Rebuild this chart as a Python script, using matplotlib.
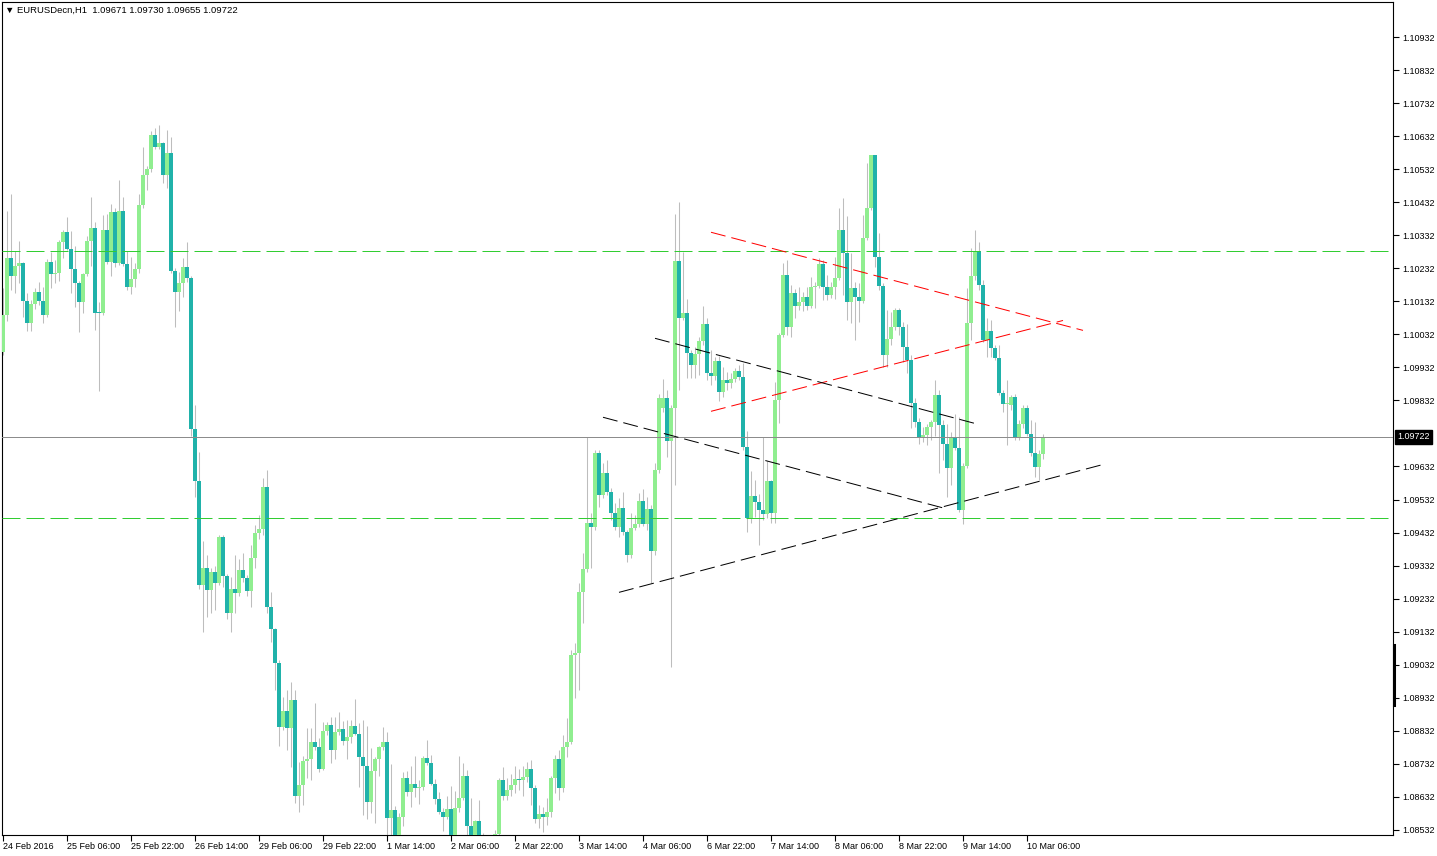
import matplotlib
matplotlib.use("Agg")
import matplotlib.pyplot as plt
from matplotlib.lines import Line2D

# ---------------- data (EURUSD H1, 261 bars) ----------------
opens = [
 1.09979,1.10091,1.10263,1.10209,1.10239,1.10248,1.10133,1.10067,1.10124,1.10161,
 1.10133,1.10091,1.10251,1.10215,1.10218,1.10312,1.10342,1.10291,1.10230,1.10188,
 1.10130,1.10215,1.10315,1.10354,1.10100,1.10097,1.10348,1.10251,1.10403,1.10248,
 1.10406,1.10245,1.10176,1.10200,1.10230,1.10424,1.10515,1.10533,1.10636,1.10599,
 1.10612,1.10515,1.10581,1.10224,1.10161,1.10188,1.10236,1.10203,1.09746,1.09588,
 1.09274,1.09325,1.09259,1.09313,1.09280,1.09419,1.09301,1.09189,1.09262,1.09249,
 1.09319,1.09295,1.09255,1.09355,1.09431,1.09443,1.09570,1.09207,1.09140,1.09038,
 1.08844,1.08892,1.08841,1.08926,1.08635,1.08668,1.08741,1.08747,1.08798,1.08783,
 1.08717,1.08832,1.08850,1.08774,1.08829,1.08838,1.08801,1.08814,1.08847,1.08823,
 1.08753,1.08726,1.08617,1.08711,1.08747,1.08783,1.08798,1.08568,1.08593,1.08514,
 1.08571,1.08689,1.08647,1.08671,1.08659,1.08662,1.08750,1.08735,1.08671,1.08626,
 1.08586,1.08571,1.08596,1.08511,1.08599,1.08629,1.08695,1.08544,1.08514,1.08559,
 1.08496,1.08471,1.08478,1.08487,1.08520,1.08683,1.08635,1.08653,1.08668,1.08686,
 1.08683,1.08692,1.08717,1.08659,1.08565,1.08580,1.08571,1.08586,1.08689,1.08747,
 1.08659,1.08783,1.08798,1.09062,1.09068,1.09252,1.09322,1.09461,1.09449,1.09673,
 1.09546,1.09613,1.09555,1.09492,1.09449,1.09507,1.09434,1.09364,1.09446,1.09458,
 1.09528,1.09458,1.09504,1.09377,1.09622,1.09809,1.09840,1.09710,1.09809,1.10254,
 1.10082,1.10097,1.09976,1.09940,1.09973,1.10012,1.10064,1.09915,1.09906,1.09952,
 1.09858,1.09894,1.09885,1.09897,1.09921,1.09903,1.09691,1.09476,1.09543,1.09525,
 1.09501,1.09489,1.09588,1.09492,1.09834,1.10030,1.10212,1.10055,1.10158,1.10118,
 1.10130,1.10145,1.10118,1.10176,1.10179,1.10245,1.10176,1.10151,1.10176,1.10203,
 1.10348,1.10279,1.10130,1.10173,1.10145,1.10133,1.10324,1.10415,1.10575,1.10267,
 1.10179,1.09970,1.10018,1.10055,1.10106,1.10055,1.09994,1.09955,1.09825,1.09767,
 1.09719,1.09728,1.09752,1.09767,1.09849,1.09758,1.09700,1.09628,1.09722,1.09688,
 1.09501,1.09634,1.10067,1.10209,1.10285,1.10182,1.10015,1.10042,1.09991,1.09961,
 1.09855,1.09822,1.09818,1.09843,1.09722,1.09761,1.09809,1.09731,1.09673,1.09631,
 1.09671]

highs = [
 1.10173,1.10406,1.10457,1.10285,1.10315,1.10251,1.10158,1.10136,1.10173,1.10191,
 1.10176,1.10260,1.10282,1.10257,1.10318,1.10348,1.10388,1.10345,1.10300,1.10194,
 1.10218,1.10330,1.10448,1.10372,1.10130,1.10394,1.10397,1.10427,1.10415,1.10500,
 1.10448,1.10285,1.10267,1.10248,1.10457,1.10599,1.10542,1.10648,1.10657,1.10666,
 1.10615,1.10651,1.10630,1.10233,1.10221,1.10263,1.10312,1.10209,1.09818,1.09676,
 1.09407,1.09364,1.09325,1.09331,1.09425,1.09425,1.09307,1.09298,1.09364,1.09352,
 1.09371,1.09304,1.09395,1.09455,1.09486,1.09598,1.09622,1.09252,1.09143,1.09047,
 1.08935,1.08956,1.08980,1.08956,1.08738,1.08756,1.08841,1.08841,1.08916,1.08810,
 1.08859,1.08859,1.08874,1.08874,1.08889,1.08862,1.08865,1.08865,1.08929,1.08856,
 1.08865,1.08847,1.08780,1.08753,1.08786,1.08844,1.08829,1.08732,1.08605,1.08583,
 1.08708,1.08711,1.08726,1.08756,1.08683,1.08756,1.08804,1.08759,1.08686,1.08647,
 1.08599,1.08635,1.08665,1.08650,1.08756,1.08735,1.08714,1.08629,1.08562,1.08623,
 1.08523,1.08502,1.08508,1.08532,1.08689,1.08723,1.08689,1.08702,1.08726,1.08717,
 1.08726,1.08738,1.08744,1.08668,1.08608,1.08602,1.08629,1.08695,1.08759,1.08774,
 1.08820,1.08871,1.09077,1.09098,1.09280,1.09371,1.09722,1.09492,1.09682,1.09682,
 1.09643,1.09652,1.09567,1.09522,1.09537,1.09555,1.09440,1.09492,1.09486,1.09552,
 1.09564,1.09540,1.09516,1.09643,1.09852,1.09897,1.09864,1.09818,1.10397,1.10433,
 1.10282,1.10139,1.09985,1.09994,1.10024,1.10118,1.10082,1.09985,1.09964,1.09967,
 1.09934,1.09918,1.09915,1.09930,1.09940,1.09946,1.09740,1.09619,1.09592,1.09549,
 1.09722,1.09649,1.09592,1.09888,1.10036,1.10248,1.10257,1.10182,1.10170,1.10176,
 1.10161,1.10176,1.10206,1.10191,1.10263,1.10257,1.10212,1.10191,1.10267,1.10415,
 1.10445,1.10391,1.10279,1.10191,1.10188,1.10394,1.10551,1.10575,1.10575,1.10339,
 1.10188,1.10106,1.10100,1.10112,1.10112,1.10070,1.10064,1.09970,1.09840,1.09779,
 1.09752,1.09761,1.09773,1.09894,1.09864,1.09773,1.09761,1.09737,1.09791,1.09782,
 1.09643,1.10173,1.10294,1.10348,1.10312,1.10197,1.10082,1.10076,1.10000,1.10000,
 1.09864,1.09894,1.09849,1.09852,1.09773,1.09818,1.09818,1.09773,1.09767,1.09682,
 1.09730]

lows = [
 1.09970,1.10073,1.10167,1.10158,1.10188,1.10085,1.10042,1.10042,1.10109,1.10121,
 1.10067,1.10085,1.10173,1.10188,1.10194,1.10263,1.10288,1.10158,1.10115,1.10039,
 1.10097,1.10209,1.10239,1.10046,1.09861,1.10091,1.10245,1.10209,1.10236,1.10242,
 1.10239,1.10167,1.10154,1.10176,1.10218,1.10415,1.10469,1.10524,1.10593,1.10593,
 1.10490,1.10475,1.10218,1.10055,1.10103,1.10145,1.10191,1.09725,1.09540,1.09262,
 1.09131,1.09177,1.09189,1.09198,1.09274,1.09268,1.09171,1.09131,1.09189,1.09240,
 1.09283,1.09240,1.09207,1.09325,1.09413,1.09425,1.09189,1.09101,1.08956,1.08786,
 1.08835,1.08774,1.08723,1.08614,1.08586,1.08608,1.08689,1.08683,1.08774,1.08708,
 1.08714,1.08820,1.08735,1.08747,1.08820,1.08789,1.08747,1.08795,1.08820,1.08662,
 1.08577,1.08565,1.08583,1.08553,1.08695,1.08774,1.08487,1.08502,1.08487,1.08502,
 1.08544,1.08635,1.08602,1.08632,1.08611,1.08653,1.08729,1.08668,1.08611,1.08580,
 1.08529,1.08565,1.08502,1.08496,1.08586,1.08623,1.08517,1.08502,1.08496,1.08478,
 1.08447,1.08441,1.08456,1.08471,1.08487,1.08623,1.08623,1.08635,1.08644,1.08653,
 1.08635,1.08677,1.08608,1.08553,1.08538,1.08526,1.08547,1.08571,1.08644,1.08623,
 1.08647,1.08753,1.08792,1.08932,1.08956,1.09159,1.09313,1.09325,1.09440,1.09510,
 1.09537,1.09546,1.09470,1.09440,1.09419,1.09425,1.09343,1.09355,1.09440,1.09449,
 1.09452,1.09440,1.09280,1.09364,1.09613,1.09797,1.09661,1.09025,1.09576,1.09864,
 1.10076,1.09900,1.09900,1.09900,1.09909,1.10000,1.09894,1.09879,1.09894,1.09831,
 1.09843,1.09864,1.09870,1.09888,1.09894,1.09682,1.09434,1.09461,1.09479,1.09395,
 1.09470,1.09476,1.09461,1.09461,1.09764,1.10024,1.10030,1.10024,1.10082,1.10106,
 1.10103,1.10106,1.10112,1.10112,1.10173,1.10136,1.10136,1.10142,1.10139,1.10197,
 1.10151,1.10076,1.10067,1.10015,1.10070,1.10127,1.10318,1.10409,1.10236,1.10167,
 1.09932,1.09932,1.10000,1.10046,1.10030,1.09949,1.09915,1.09749,1.09752,1.09700,
 1.09707,1.09697,1.09713,1.09725,1.09613,1.09652,1.09540,1.09576,1.09682,1.09495,
 1.09458,1.09628,1.10015,1.10197,1.10167,1.10009,1.09964,1.09964,1.09955,1.09849,
 1.09797,1.09697,1.09803,1.09713,1.09713,1.09749,1.09725,1.09664,1.09600,1.09592,
 1.09655]

closes = [
 1.10091,1.10263,1.10209,1.10239,1.10248,1.10133,1.10067,1.10124,1.10161,1.10133,
 1.10091,1.10251,1.10215,1.10218,1.10312,1.10342,1.10291,1.10230,1.10188,1.10130,
 1.10215,1.10315,1.10354,1.10097,1.10097,1.10348,1.10251,1.10403,1.10248,1.10406,
 1.10245,1.10176,1.10200,1.10230,1.10424,1.10515,1.10533,1.10636,1.10599,1.10612,
 1.10515,1.10581,1.10224,1.10161,1.10188,1.10236,1.10203,1.09746,1.09588,1.09274,
 1.09325,1.09259,1.09313,1.09280,1.09419,1.09301,1.09189,1.09262,1.09249,1.09319,
 1.09295,1.09255,1.09355,1.09431,1.09443,1.09570,1.09207,1.09140,1.09038,1.08844,
 1.08892,1.08841,1.08926,1.08635,1.08668,1.08741,1.08747,1.08798,1.08783,1.08717,
 1.08832,1.08850,1.08774,1.08829,1.08838,1.08801,1.08814,1.08847,1.08823,1.08753,
 1.08726,1.08617,1.08711,1.08747,1.08783,1.08798,1.08568,1.08593,1.08514,1.08571,
 1.08689,1.08647,1.08671,1.08659,1.08662,1.08750,1.08735,1.08671,1.08626,1.08586,
 1.08571,1.08596,1.08511,1.08599,1.08629,1.08695,1.08544,1.08514,1.08559,1.08496,
 1.08471,1.08478,1.08487,1.08520,1.08683,1.08635,1.08653,1.08668,1.08686,1.08683,
 1.08692,1.08717,1.08659,1.08565,1.08580,1.08571,1.08586,1.08689,1.08747,1.08659,
 1.08783,1.08798,1.09062,1.09068,1.09252,1.09322,1.09461,1.09449,1.09673,1.09546,
 1.09613,1.09555,1.09492,1.09449,1.09507,1.09434,1.09364,1.09446,1.09458,1.09528,
 1.09458,1.09504,1.09377,1.09622,1.09840,1.09840,1.09710,1.09809,1.10254,1.10082,
 1.10097,1.09976,1.09940,1.09973,1.10012,1.10064,1.09915,1.09906,1.09952,1.09858,
 1.09894,1.09885,1.09897,1.09921,1.09903,1.09691,1.09476,1.09543,1.09525,1.09501,
 1.09489,1.09588,1.09492,1.09834,1.10030,1.10212,1.10055,1.10158,1.10118,1.10130,
 1.10145,1.10118,1.10176,1.10179,1.10245,1.10176,1.10151,1.10176,1.10203,1.10348,
 1.10279,1.10130,1.10173,1.10145,1.10133,1.10324,1.10415,1.10575,1.10267,1.10179,
 1.09970,1.10018,1.10055,1.10106,1.10055,1.09994,1.09955,1.09825,1.09767,1.09719,
 1.09728,1.09752,1.09767,1.09849,1.09758,1.09700,1.09628,1.09722,1.09688,1.09501,
 1.09634,1.10067,1.10209,1.10285,1.10182,1.10015,1.10042,1.09991,1.09961,1.09855,
 1.09822,1.09825,1.09843,1.09722,1.09761,1.09809,1.09731,1.09673,1.09631,1.09670,
 1.09722]

symbol = "EURUSDecn,H1"
date_labels = ["24 Feb 2016", "25 Feb 06:00", "25 Feb 22:00", "26 Feb 14:00",
               "29 Feb 06:00", "29 Feb 22:00", "1 Mar 14:00", "2 Mar 06:00",
               "2 Mar 22:00", "3 Mar 14:00", "4 Mar 06:00", "6 Mar 22:00",
               "7 Mar 14:00", "8 Mar 06:00", "8 Mar 22:00", "9 Mar 14:00",
               "10 Mar 06:00"]
bars_per_label = 16
price_labels = ["1.10932", "1.10832", "1.10732", "1.10632", "1.10532", "1.10432",
                "1.10332", "1.10232", "1.10132", "1.10032", "1.09932", "1.09832",
                "1.09632", "1.09532", "1.09432", "1.09332", "1.09232",
                "1.09132", "1.09032", "1.08932", "1.08832", "1.08732", "1.08632",
                "1.08532"]
h_levels = [1.10283, 1.09475]          # horizontal support/resistance lines
red_lines = [((177, 1.10341), (270, 1.10044)),
             ((177, 1.09799), (265, 1.10074))]
black_lines = [((163, 1.10020), (244, 1.09759)),
               ((150, 1.09781), (235.5, 1.09505)),
               ((154, 1.09251), (275, 1.09638))]

# ---------------- figure ----------------
W, H = 1437, 856
fig = plt.figure(figsize=(W / 100, H / 100), dpi=100)
fig.patch.set_facecolor("white")
ax = fig.add_axes([2 / W, 21 / H, 1391 / W, 833 / H])
ax.set_facecolor("white")

n = len(closes)
idx = list(range(n))
bull = "#90EE90"
bear = "#20B2AA"
wick = "#BDBDBD"

ax.vlines(idx, lows, highs, colors=wick, linewidth=0.75, zorder=2)
bottoms = [min(o, c) for o, c in zip(opens, closes)]
heights = [max(abs(c - o), 0.000035) for o, c in zip(opens, closes)]
colors = [bull if c > o else bear for o, c in zip(opens, closes)]
ax.bar(idx, heights, bottom=bottoms, width=0.85, color=colors,
       edgecolor="none", linewidth=0, zorder=3)

lw = 0.72
for lvl in h_levels:
    ax.axhline(lvl, color="#32CD32", linewidth=lw, dashes=(18, 6), zorder=4)
last = closes[-1]
ax.axhline(last, color="#8C8C8C", linewidth=lw, zorder=4)
for (x0, y0), (x1, y1) in red_lines:
    ax.plot([x0, x1], [y0, y1], color="#FF0000", linewidth=lw, dashes=(15, 6), zorder=5)
for (x0, y0), (x1, y1) in black_lines:
    ax.plot([x0, x1], [y0, y1], color="#000000", linewidth=lw, dashes=(15, 6), zorder=5)

ax.set_xlim(-0.25, 347.5)
ax.set_ylim(1.085165, 1.11038)

# axes styling
for s in ax.spines.values():
    s.set_color("black")
    s.set_linewidth(0.8)
ax.yaxis.tick_right()
ax.set_yticks([float(p) for p in price_labels])
ax.set_yticklabels(price_labels)
ax.tick_params(axis="y", direction="out", length=4, width=0.8, pad=3,
               labelsize=6.5, colors="black")
xt = [k * bars_per_label for k in range(len(date_labels))]
ax.set_xticks(xt)
ax.set_xticklabels(date_labels, ha="left")
ax.tick_params(axis="x", direction="out", length=4, width=0.8, pad=1,
               labelsize=6.5, colors="black")
for t in ax.get_xticklabels() + ax.get_yticklabels():
    t.set_fontfamily("Liberation Sans")

# current price tag
ax.annotate(f"{last:.5f}", xy=(1.0, last), xycoords=("axes fraction", "data"),
            xytext=(3, 0), textcoords="offset points", ha="left", va="center",
            fontsize=6.5, color="white", family="Liberation Sans",
            bbox=dict(boxstyle="square,pad=0.25", fc="black", ec="black"),
            zorder=10, annotation_clip=False)

# header
fig.text(5 / W, 1 - 10 / H,
         f"\u25BC {symbol}  {opens[-1]:.5f} {highs[-1]:.5f} {lows[-1]:.5f} {closes[-1]:.5f}",
         fontsize=6.8, family=["Liberation Sans", "DejaVu Sans"], va="center", ha="left")

# MT4 scale marker on the price axis
fig.add_artist(Line2D([1394 / W, 1394 / W], [1 - 645 / H, 1 - 705 / H],
                      color="black", linewidth=2.2, transform=fig.transFigure))

fig.savefig("out.png", dpi=100, facecolor="white")
